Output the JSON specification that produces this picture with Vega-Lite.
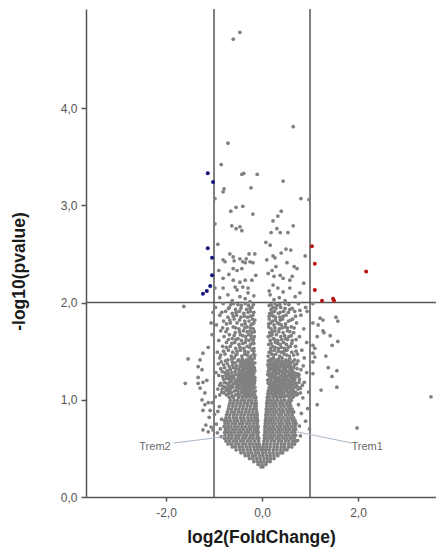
{
"$schema":"https://vega.github.io/schema/vega-lite/v6.json",
"width":350,"height":488,
"autosize":{"type":"none"},
"padding":{"left":86,"top":9,"right":0,"bottom":52},
"background":"white",
"config":{"view":{"stroke":null},
"axis":{"grid":false,"domainColor":"#555","domainWidth":1.5,"tickColor":"#555","tickWidth":1.5,"labelFont":"Liberation Sans","labelFontSize":12,"labelColor":"#555","titleFont":"Liberation Sans","titleFontSize":17.5,"titleFontWeight":"bold","titleColor":"#1a1a1a"}},
"datasets":{
"vref":[{"x":-1},{"x":1}],
"href":[{"y":2}],
"genes":[{"gene":"Trem2","x":-0.77,"y":0.62,"lx":-1.85,"ly":0.555,"tx":-2.23,"ty":0.51},{"gene":"Trem1","x":0.73,"y":0.67,"lx":1.875,"ly":0.555,"tx":2.19,"ty":0.51}],
"down":[{"x":-1.13,"y":3.33},{"x":-1.02,"y":3.24},{"x":-1.13,"y":2.56},{"x":-1.04,"y":2.46},{"x":-1.04,"y":2.28},{"x":-1.08,"y":2.17},{"x":-1.15,"y":2.12},{"x":-1.23,"y":2.09}],
"up":[{"x":1.04,"y":2.58},{"x":1.10,"y":2.40},{"x":1.10,"y":2.13},{"x":1.25,"y":2.02},{"x":1.48,"y":2.04},{"x":1.50,"y":2.02},{"x":2.17,"y":2.32}],
"ns":[
{"x":-0.02,"y":0.31},{"x":0.02,"y":0.31},
{"x":-0.08,"y":0.335},{"x":0.00,"y":0.335},{"x":0.08,"y":0.335},
{"x":-0.17,"y":0.365},{"x":-0.10,"y":0.365},{"x":-0.03,"y":0.365},{"x":0.04,"y":0.365},{"x":0.11,"y":0.365},{"x":0.17,"y":0.365},
{"x":-0.26,"y":0.395},{"x":-0.19,"y":0.395},{"x":-0.11,"y":0.395},{"x":-0.04,"y":0.395},{"x":0.04,"y":0.395},{"x":0.11,"y":0.395},{"x":0.18,"y":0.395},{"x":0.25,"y":0.395},
{"x":-0.35,"y":0.425},{"x":-0.28,"y":0.425},{"x":-0.20,"y":0.425},{"x":-0.13,"y":0.425},{"x":-0.05,"y":0.425},{"x":0.02,"y":0.425},{"x":0.10,"y":0.425},{"x":0.17,"y":0.425},{"x":0.25,"y":0.425},{"x":0.33,"y":0.425},
{"x":-0.44,"y":0.455},{"x":-0.37,"y":0.455},{"x":-0.29,"y":0.455},{"x":-0.22,"y":0.455},{"x":-0.14,"y":0.455},{"x":-0.07,"y":0.455},{"x":0.01,"y":0.455},{"x":0.08,"y":0.455},{"x":0.16,"y":0.455},{"x":0.23,"y":0.455},{"x":0.31,"y":0.455},{"x":0.38,"y":0.455},{"x":0.43,"y":0.455},
{"x":-0.54,"y":0.485},{"x":-0.46,"y":0.485},{"x":-0.39,"y":0.485},{"x":-0.31,"y":0.485},{"x":-0.24,"y":0.485},{"x":-0.16,"y":0.485},{"x":-0.09,"y":0.485},{"x":-0.02,"y":0.485},{"x":0.03,"y":0.485},{"x":0.09,"y":0.485},{"x":0.16,"y":0.485},{"x":0.24,"y":0.485},{"x":0.31,"y":0.485},{"x":0.39,"y":0.485},{"x":0.46,"y":0.485},{"x":0.52,"y":0.485},
{"x":-0.62,"y":0.515},{"x":-0.55,"y":0.515},{"x":-0.47,"y":0.515},{"x":-0.40,"y":0.515},{"x":-0.32,"y":0.515},{"x":-0.25,"y":0.515},{"x":-0.17,"y":0.515},{"x":-0.10,"y":0.515},{"x":-0.04,"y":0.515},{"x":0.03,"y":0.515},{"x":0.10,"y":0.515},{"x":0.17,"y":0.515},{"x":0.25,"y":0.515},{"x":0.32,"y":0.515},{"x":0.40,"y":0.515},{"x":0.47,"y":0.515},{"x":0.55,"y":0.515},{"x":0.62,"y":0.515},
{"x":-0.71,"y":0.545},{"x":-0.64,"y":0.545},{"x":-0.56,"y":0.545},{"x":-0.49,"y":0.545},{"x":-0.41,"y":0.545},{"x":-0.34,"y":0.545},{"x":-0.26,"y":0.545},{"x":-0.19,"y":0.545},{"x":-0.12,"y":0.545},{"x":-0.06,"y":0.545},{"x":0.03,"y":0.545},{"x":0.10,"y":0.545},{"x":0.17,"y":0.545},{"x":0.25,"y":0.545},{"x":0.32,"y":0.545},{"x":0.40,"y":0.545},{"x":0.47,"y":0.545},{"x":0.55,"y":0.545},{"x":0.62,"y":0.545},{"x":0.68,"y":0.545},
{"x":-0.75,"y":0.575},{"x":-0.68,"y":0.575},{"x":-0.60,"y":0.575},{"x":-0.53,"y":0.575},{"x":-0.45,"y":0.575},{"x":-0.38,"y":0.575},{"x":-0.30,"y":0.575},{"x":-0.23,"y":0.575},{"x":-0.15,"y":0.575},{"x":-0.07,"y":0.575},{"x":0.04,"y":0.575},{"x":0.11,"y":0.575},{"x":0.19,"y":0.575},{"x":0.26,"y":0.575},{"x":0.34,"y":0.575},{"x":0.41,"y":0.575},{"x":0.49,"y":0.575},{"x":0.56,"y":0.575},{"x":0.64,"y":0.575},{"x":0.70,"y":0.575},
{"x":-0.78,"y":0.605},{"x":-0.71,"y":0.605},{"x":-0.64,"y":0.605},{"x":-0.56,"y":0.605},{"x":-0.49,"y":0.605},{"x":-0.41,"y":0.605},{"x":-0.34,"y":0.605},{"x":-0.26,"y":0.605},{"x":-0.19,"y":0.605},{"x":-0.11,"y":0.605},{"x":-0.07,"y":0.605},{"x":0.05,"y":0.605},{"x":0.08,"y":0.605},{"x":0.15,"y":0.605},{"x":0.22,"y":0.605},{"x":0.30,"y":0.605},{"x":0.37,"y":0.605},{"x":0.45,"y":0.605},{"x":0.52,"y":0.605},{"x":0.60,"y":0.605},{"x":0.67,"y":0.605},
{"x":-0.77,"y":0.635},{"x":-0.69,"y":0.635},{"x":-0.62,"y":0.635},{"x":-0.54,"y":0.635},{"x":-0.47,"y":0.635},{"x":-0.39,"y":0.635},{"x":-0.32,"y":0.635},{"x":-0.24,"y":0.635},{"x":-0.17,"y":0.635},{"x":-0.09,"y":0.635},{"x":0.05,"y":0.635},{"x":0.12,"y":0.635},{"x":0.19,"y":0.635},{"x":0.26,"y":0.635},{"x":0.34,"y":0.635},{"x":0.41,"y":0.635},{"x":0.49,"y":0.635},{"x":0.56,"y":0.635},{"x":0.64,"y":0.635},{"x":0.70,"y":0.635},
{"x":-0.78,"y":0.665},{"x":-0.72,"y":0.665},{"x":-0.65,"y":0.665},{"x":-0.58,"y":0.665},{"x":-0.50,"y":0.665},{"x":-0.43,"y":0.665},{"x":-0.35,"y":0.665},{"x":-0.28,"y":0.665},{"x":-0.20,"y":0.665},{"x":-0.13,"y":0.665},{"x":-0.08,"y":0.665},{"x":0.06,"y":0.665},{"x":0.09,"y":0.665},{"x":0.16,"y":0.665},{"x":0.23,"y":0.665},{"x":0.31,"y":0.665},{"x":0.38,"y":0.665},{"x":0.46,"y":0.665},{"x":0.53,"y":0.665},{"x":0.61,"y":0.665},{"x":0.68,"y":0.665},
{"x":-0.76,"y":0.695},{"x":-0.69,"y":0.695},{"x":-0.61,"y":0.695},{"x":-0.54,"y":0.695},{"x":-0.46,"y":0.695},{"x":-0.39,"y":0.695},{"x":-0.31,"y":0.695},{"x":-0.24,"y":0.695},{"x":-0.16,"y":0.695},{"x":-0.09,"y":0.695},{"x":0.06,"y":0.695},{"x":0.13,"y":0.695},{"x":0.20,"y":0.695},{"x":0.27,"y":0.695},{"x":0.35,"y":0.695},{"x":0.42,"y":0.695},{"x":0.50,"y":0.695},{"x":0.57,"y":0.695},{"x":0.65,"y":0.695},{"x":0.70,"y":0.695},
{"x":-0.79,"y":0.725},{"x":-0.72,"y":0.725},{"x":-0.65,"y":0.725},{"x":-0.57,"y":0.725},{"x":-0.50,"y":0.725},{"x":-0.42,"y":0.725},{"x":-0.35,"y":0.725},{"x":-0.27,"y":0.725},{"x":-0.20,"y":0.725},{"x":-0.13,"y":0.725},{"x":-0.08,"y":0.725},{"x":0.06,"y":0.725},{"x":0.10,"y":0.725},{"x":0.17,"y":0.725},{"x":0.24,"y":0.725},{"x":0.32,"y":0.725},{"x":0.39,"y":0.725},{"x":0.47,"y":0.725},{"x":0.54,"y":0.725},{"x":0.62,"y":0.725},{"x":0.69,"y":0.725},
{"x":-0.77,"y":0.755},{"x":-0.70,"y":0.755},{"x":-0.62,"y":0.755},{"x":-0.55,"y":0.755},{"x":-0.47,"y":0.755},{"x":-0.40,"y":0.755},{"x":-0.32,"y":0.755},{"x":-0.25,"y":0.755},{"x":-0.17,"y":0.755},{"x":-0.10,"y":0.755},{"x":0.07,"y":0.755},{"x":0.14,"y":0.755},{"x":0.21,"y":0.755},{"x":0.28,"y":0.755},{"x":0.36,"y":0.755},{"x":0.43,"y":0.755},{"x":0.51,"y":0.755},{"x":0.58,"y":0.755},{"x":0.66,"y":0.755},{"x":0.71,"y":0.755},
{"x":-0.78,"y":0.785},{"x":-0.73,"y":0.785},{"x":-0.66,"y":0.785},{"x":-0.58,"y":0.785},{"x":-0.51,"y":0.785},{"x":-0.43,"y":0.785},{"x":-0.36,"y":0.785},{"x":-0.28,"y":0.785},{"x":-0.21,"y":0.785},{"x":-0.14,"y":0.785},{"x":-0.09,"y":0.785},{"x":0.07,"y":0.785},{"x":0.11,"y":0.785},{"x":0.18,"y":0.785},{"x":0.25,"y":0.785},{"x":0.33,"y":0.785},{"x":0.40,"y":0.785},{"x":0.48,"y":0.785},{"x":0.55,"y":0.785},{"x":0.63,"y":0.785},{"x":0.69,"y":0.785},
{"x":-0.75,"y":0.815},{"x":-0.68,"y":0.815},{"x":-0.60,"y":0.815},{"x":-0.53,"y":0.815},{"x":-0.45,"y":0.815},{"x":-0.38,"y":0.815},{"x":-0.30,"y":0.815},{"x":-0.23,"y":0.815},{"x":-0.16,"y":0.815},{"x":-0.10,"y":0.815},{"x":0.08,"y":0.815},{"x":0.15,"y":0.815},{"x":0.22,"y":0.815},{"x":0.29,"y":0.815},{"x":0.37,"y":0.815},{"x":0.44,"y":0.815},{"x":0.52,"y":0.815},{"x":0.59,"y":0.815},{"x":0.66,"y":0.815},
{"x":-0.74,"y":0.845},{"x":-0.67,"y":0.845},{"x":-0.59,"y":0.845},{"x":-0.52,"y":0.845},{"x":-0.44,"y":0.845},{"x":-0.37,"y":0.845},{"x":-0.29,"y":0.845},{"x":-0.22,"y":0.845},{"x":-0.15,"y":0.845},{"x":-0.10,"y":0.845},{"x":0.08,"y":0.845},{"x":0.12,"y":0.845},{"x":0.19,"y":0.845},{"x":0.26,"y":0.845},{"x":0.34,"y":0.845},{"x":0.41,"y":0.845},{"x":0.49,"y":0.845},{"x":0.56,"y":0.845},{"x":0.63,"y":0.845},
{"x":-0.72,"y":0.875},{"x":-0.64,"y":0.875},{"x":-0.57,"y":0.875},{"x":-0.49,"y":0.875},{"x":-0.42,"y":0.875},{"x":-0.34,"y":0.875},{"x":-0.27,"y":0.875},{"x":-0.19,"y":0.875},{"x":-0.11,"y":0.875},{"x":0.09,"y":0.875},{"x":0.16,"y":0.875},{"x":0.23,"y":0.875},{"x":0.30,"y":0.875},{"x":0.38,"y":0.875},{"x":0.45,"y":0.875},{"x":0.53,"y":0.875},{"x":0.60,"y":0.875},{"x":0.66,"y":0.875},
{"x":-0.70,"y":0.905},{"x":-0.63,"y":0.905},{"x":-0.55,"y":0.905},{"x":-0.48,"y":0.905},{"x":-0.40,"y":0.905},{"x":-0.33,"y":0.905},{"x":-0.25,"y":0.905},{"x":-0.18,"y":0.905},{"x":-0.12,"y":0.905},{"x":0.09,"y":0.905},{"x":0.13,"y":0.905},{"x":0.20,"y":0.905},{"x":0.27,"y":0.905},{"x":0.35,"y":0.905},{"x":0.42,"y":0.905},{"x":0.50,"y":0.905},{"x":0.57,"y":0.905},{"x":0.63,"y":0.905},
{"x":-0.69,"y":0.935},{"x":-0.61,"y":0.935},{"x":-0.54,"y":0.935},{"x":-0.46,"y":0.935},{"x":-0.39,"y":0.935},{"x":-0.31,"y":0.935},{"x":-0.24,"y":0.935},{"x":-0.16,"y":0.935},{"x":-0.12,"y":0.935},{"x":0.10,"y":0.935},{"x":0.17,"y":0.935},{"x":0.24,"y":0.935},{"x":0.31,"y":0.935},{"x":0.39,"y":0.935},{"x":0.46,"y":0.935},{"x":0.54,"y":0.935},{"x":0.60,"y":0.935},
{"x":-0.67,"y":0.965},{"x":-0.60,"y":0.965},{"x":-0.52,"y":0.965},{"x":-0.45,"y":0.965},{"x":-0.37,"y":0.965},{"x":-0.30,"y":0.965},{"x":-0.22,"y":0.965},{"x":-0.15,"y":0.965},{"x":-0.12,"y":0.965},{"x":0.10,"y":0.965},{"x":0.14,"y":0.965},{"x":0.21,"y":0.965},{"x":0.28,"y":0.965},{"x":0.36,"y":0.965},{"x":0.43,"y":0.965},{"x":0.51,"y":0.965},{"x":0.58,"y":0.965},
{"x":-0.66,"y":0.995},{"x":-0.58,"y":0.995},{"x":-0.51,"y":0.995},{"x":-0.43,"y":0.995},{"x":-0.36,"y":0.995},{"x":-0.28,"y":0.995},{"x":-0.21,"y":0.995},{"x":-0.13,"y":0.995},{"x":0.11,"y":0.995},{"x":0.18,"y":0.995},{"x":0.25,"y":0.995},{"x":0.32,"y":0.995},{"x":0.40,"y":0.995},{"x":0.47,"y":0.995},{"x":0.55,"y":0.995},{"x":0.61,"y":0.995},
{"x":-0.68,"y":1.025},{"x":-0.60,"y":1.025},{"x":-0.49,"y":1.025},{"x":-0.41,"y":1.025},{"x":-0.33,"y":1.025},{"x":-0.25,"y":1.025},{"x":-0.17,"y":1.025},{"x":-0.13,"y":1.025},{"x":0.11,"y":1.025},{"x":0.15,"y":1.025},{"x":0.23,"y":1.025},{"x":0.31,"y":1.025},{"x":0.38,"y":1.025},{"x":0.46,"y":1.025},{"x":0.57,"y":1.025},{"x":0.64,"y":1.025},
{"x":-0.88,"y":1.05},{"x":-0.74,"y":1.05},{"x":-0.55,"y":1.05},{"x":-0.46,"y":1.05},{"x":-0.31,"y":1.05},{"x":-0.22,"y":1.05},{"x":-0.15,"y":1.05},
{"x":-0.79,"y":1.07},{"x":-0.64,"y":1.07},{"x":-0.39,"y":1.07},{"x":-0.27,"y":1.07},{"x":-0.18,"y":1.07},
{"x":-0.71,"y":1.09},{"x":-0.58,"y":1.09},{"x":-0.50,"y":1.09},{"x":-0.35,"y":1.09},{"x":-0.24,"y":1.09},{"x":-0.14,"y":1.09},
{"x":-0.92,"y":1.11},{"x":-0.83,"y":1.11},{"x":-0.66,"y":1.11},{"x":-0.43,"y":1.11},{"x":-0.30,"y":1.11},{"x":-0.19,"y":1.11},
{"x":-0.76,"y":1.13},{"x":-0.61,"y":1.13},{"x":-0.53,"y":1.13},{"x":-0.37,"y":1.13},{"x":-0.26,"y":1.13},{"x":-0.15,"y":1.13},
{"x":-0.69,"y":1.15},{"x":-0.47,"y":1.15},{"x":-0.33,"y":1.15},{"x":-0.21,"y":1.15},
{"x":-0.86,"y":1.17},{"x":-0.73,"y":1.17},{"x":-0.57,"y":1.17},{"x":-0.40,"y":1.17},{"x":-0.28,"y":1.17},{"x":-0.16,"y":1.17},
{"x":-0.64,"y":1.19},{"x":-0.51,"y":1.19},{"x":-0.36,"y":1.19},{"x":-0.23,"y":1.19},
{"x":-0.80,"y":1.21},{"x":-0.68,"y":1.21},{"x":-0.45,"y":1.21},{"x":-0.31,"y":1.21},{"x":-0.18,"y":1.21},
{"x":-0.59,"y":1.23},{"x":-0.38,"y":1.23},{"x":-0.26,"y":1.23},{"x":-0.15,"y":1.23},
{"x":-0.90,"y":1.25},{"x":-0.75,"y":1.25},{"x":-0.62,"y":1.25},{"x":-0.49,"y":1.25},{"x":-0.33,"y":1.25},{"x":-0.21,"y":1.25},
{"x":-0.70,"y":1.27},{"x":-0.43,"y":1.27},{"x":-0.29,"y":1.27},{"x":-0.17,"y":1.27},
{"x":-0.83,"y":1.29},{"x":-0.56,"y":1.29},{"x":-0.37,"y":1.29},{"x":-0.24,"y":1.29},
{"x":-0.66,"y":1.31},{"x":-0.48,"y":1.31},{"x":-0.31,"y":1.31},{"x":-0.19,"y":1.31},
{"x":-0.78,"y":1.33},{"x":-0.60,"y":1.33},{"x":-0.40,"y":1.33},{"x":-0.27,"y":1.33},{"x":-0.16,"y":1.33},
{"x":-0.53,"y":1.35},{"x":-0.35,"y":1.35},{"x":-0.22,"y":1.35},
{"x":-0.72,"y":1.37},{"x":-0.45,"y":1.37},{"x":-0.30,"y":1.37},{"x":-0.18,"y":1.37},
{"x":-0.85,"y":1.39},{"x":-0.62,"y":1.39},{"x":-0.38,"y":1.39},{"x":-0.25,"y":1.39},
{"x":-0.62,"y":1.04},{"x":-0.38,"y":1.04},{"x":-0.27,"y":1.04},
{"x":-0.70,"y":1.06},{"x":-0.50,"y":1.06},{"x":-0.34,"y":1.06},{"x":-0.20,"y":1.06},
{"x":-0.84,"y":1.08},{"x":-0.66,"y":1.08},{"x":-0.43,"y":1.08},{"x":-0.30,"y":1.08},{"x":-0.17,"y":1.08},
{"x":-0.75,"y":1.10},{"x":-0.54,"y":1.10},{"x":-0.38,"y":1.10},{"x":-0.25,"y":1.10},
{"x":-0.70,"y":1.12},{"x":-0.48,"y":1.12},{"x":-0.33,"y":1.12},{"x":-0.22,"y":1.12},
{"x":-0.81,"y":1.14},{"x":-0.64,"y":1.14},{"x":-0.42,"y":1.14},{"x":-0.29,"y":1.14},{"x":-0.18,"y":1.14},
{"x":-0.60,"y":1.16},{"x":-0.52,"y":1.16},{"x":-0.37,"y":1.16},{"x":-0.25,"y":1.16},
{"x":-0.78,"y":1.18},{"x":-0.67,"y":1.18},{"x":-0.46,"y":1.18},{"x":-0.32,"y":1.18},{"x":-0.20,"y":1.18},
{"x":-0.56,"y":1.20},{"x":-0.41,"y":1.20},{"x":-0.27,"y":1.20},{"x":-0.15,"y":1.20},
{"x":-0.74,"y":1.22},{"x":-0.63,"y":1.22},{"x":-0.50,"y":1.22},{"x":-0.35,"y":1.22},{"x":-0.22,"y":1.22},
{"x":-0.82,"y":1.24},{"x":-0.68,"y":1.24},{"x":-0.44,"y":1.24},{"x":-0.31,"y":1.24},{"x":-0.19,"y":1.24},
{"x":-0.55,"y":1.26},{"x":-0.39,"y":1.26},{"x":-0.25,"y":1.26},
{"x":-0.77,"y":1.28},{"x":-0.63,"y":1.28},{"x":-0.48,"y":1.28},{"x":-0.33,"y":1.28},{"x":-0.20,"y":1.28},
{"x":-0.72,"y":1.30},{"x":-0.42,"y":1.30},{"x":-0.28,"y":1.30},{"x":-0.15,"y":1.30},
{"x":-0.86,"y":1.32},{"x":-0.54,"y":1.32},{"x":-0.36,"y":1.32},{"x":-0.23,"y":1.32},
{"x":-0.68,"y":1.34},{"x":-0.46,"y":1.34},{"x":-0.31,"y":1.34},{"x":-0.19,"y":1.34},
{"x":-0.80,"y":1.36},{"x":-0.61,"y":1.36},{"x":-0.40,"y":1.36},{"x":-0.26,"y":1.36},
{"x":-0.56,"y":1.38},{"x":-0.34,"y":1.38},{"x":-0.21,"y":1.38},{"x":-0.15,"y":1.38},
{"x":-0.76,"y":1.40},{"x":-0.50,"y":1.40},{"x":-0.43,"y":1.40},{"x":-0.29,"y":1.40},
{"x":0.14,"y":1.05},{"x":0.22,"y":1.05},{"x":0.35,"y":1.05},{"x":0.48,"y":1.05},{"x":0.60,"y":1.05},{"x":0.72,"y":1.05},
{"x":0.18,"y":1.07},{"x":0.29,"y":1.07},{"x":0.41,"y":1.07},{"x":0.55,"y":1.07},{"x":0.67,"y":1.07},{"x":0.80,"y":1.07},
{"x":0.13,"y":1.09},{"x":0.25,"y":1.09},{"x":0.37,"y":1.09},{"x":0.51,"y":1.09},{"x":0.63,"y":1.09},
{"x":0.20,"y":1.11},{"x":0.32,"y":1.11},{"x":0.44,"y":1.11},{"x":0.58,"y":1.11},{"x":0.75,"y":1.11},
{"x":0.15,"y":1.13},{"x":0.27,"y":1.13},{"x":0.40,"y":1.13},{"x":0.53,"y":1.13},{"x":0.68,"y":1.13},
{"x":0.22,"y":1.15},{"x":0.35,"y":1.15},{"x":0.47,"y":1.15},{"x":0.61,"y":1.15},{"x":0.84,"y":1.15},
{"x":0.13,"y":1.17},{"x":0.29,"y":1.17},{"x":0.42,"y":1.17},{"x":0.56,"y":1.17},{"x":0.71,"y":1.17},
{"x":0.19,"y":1.19},{"x":0.33,"y":1.19},{"x":0.49,"y":1.19},{"x":0.64,"y":1.19},
{"x":0.14,"y":1.21},{"x":0.26,"y":1.21},{"x":0.38,"y":1.21},{"x":0.52,"y":1.21},{"x":0.78,"y":1.21},
{"x":0.21,"y":1.23},{"x":0.31,"y":1.23},{"x":0.45,"y":1.23},{"x":0.59,"y":1.23},{"x":0.69,"y":1.23},
{"x":0.15,"y":1.25},{"x":0.28,"y":1.25},{"x":0.41,"y":1.25},{"x":0.55,"y":1.25},
{"x":0.19,"y":1.27},{"x":0.34,"y":1.27},{"x":0.48,"y":1.27},{"x":0.63,"y":1.27},{"x":0.74,"y":1.27},
{"x":0.13,"y":1.29},{"x":0.24,"y":1.29},{"x":0.39,"y":1.29},{"x":0.52,"y":1.29},
{"x":0.18,"y":1.31},{"x":0.30,"y":1.31},{"x":0.44,"y":1.31},{"x":0.58,"y":1.31},{"x":0.81,"y":1.31},
{"x":0.14,"y":1.33},{"x":0.26,"y":1.33},{"x":0.37,"y":1.33},{"x":0.50,"y":1.33},{"x":0.66,"y":1.33},
{"x":0.20,"y":1.35},{"x":0.33,"y":1.35},{"x":0.46,"y":1.35},{"x":0.60,"y":1.35},
{"x":0.15,"y":1.37},{"x":0.28,"y":1.37},{"x":0.41,"y":1.37},{"x":0.55,"y":1.37},{"x":0.72,"y":1.37},
{"x":0.19,"y":1.39},{"x":0.36,"y":1.39},{"x":0.49,"y":1.39},{"x":0.64,"y":1.39},
{"x":0.28,"y":1.04},{"x":0.42,"y":1.04},{"x":0.53,"y":1.04},{"x":0.66,"y":1.04},
{"x":0.12,"y":1.06},{"x":0.26,"y":1.06},{"x":0.39,"y":1.06},{"x":0.62,"y":1.06},{"x":0.74,"y":1.06},
{"x":0.19,"y":1.08},{"x":0.32,"y":1.08},{"x":0.45,"y":1.08},{"x":0.58,"y":1.08},{"x":0.70,"y":1.08},
{"x":0.14,"y":1.10},{"x":0.27,"y":1.10},{"x":0.39,"y":1.10},{"x":0.51,"y":1.10},{"x":0.65,"y":1.10},
{"x":0.24,"y":1.12},{"x":0.36,"y":1.12},{"x":0.49,"y":1.12},{"x":0.62,"y":1.12},{"x":0.80,"y":1.12},
{"x":0.19,"y":1.14},{"x":0.31,"y":1.14},{"x":0.44,"y":1.14},{"x":0.57,"y":1.14},{"x":0.73,"y":1.14},
{"x":0.17,"y":1.16},{"x":0.26,"y":1.16},{"x":0.39,"y":1.16},{"x":0.52,"y":1.16},{"x":0.66,"y":1.16},
{"x":0.23,"y":1.18},{"x":0.37,"y":1.18},{"x":0.46,"y":1.18},{"x":0.60,"y":1.18},{"x":0.77,"y":1.18},
{"x":0.12,"y":1.20},{"x":0.29,"y":1.20},{"x":0.43,"y":1.20},{"x":0.56,"y":1.20},{"x":0.68,"y":1.20},
{"x":0.18,"y":1.22},{"x":0.35,"y":1.22},{"x":0.48,"y":1.22},{"x":0.63,"y":1.22},
{"x":0.24,"y":1.24},{"x":0.38,"y":1.24},{"x":0.51,"y":1.24},{"x":0.65,"y":1.24},{"x":0.76,"y":1.24},
{"x":0.12,"y":1.26},{"x":0.22,"y":1.26},{"x":0.45,"y":1.26},{"x":0.59,"y":1.26},{"x":0.70,"y":1.26},
{"x":0.29,"y":1.28},{"x":0.43,"y":1.28},{"x":0.57,"y":1.28},{"x":0.67,"y":1.28},
{"x":0.14,"y":1.30},{"x":0.25,"y":1.30},{"x":0.36,"y":1.30},{"x":0.50,"y":1.30},{"x":0.63,"y":1.30},
{"x":0.21,"y":1.32},{"x":0.33,"y":1.32},{"x":0.47,"y":1.32},{"x":0.61,"y":1.32},{"x":0.73,"y":1.32},
{"x":0.17,"y":1.34},{"x":0.30,"y":1.34},{"x":0.43,"y":1.34},{"x":0.56,"y":1.34},
{"x":0.12,"y":1.36},{"x":0.24,"y":1.36},{"x":0.39,"y":1.36},{"x":0.52,"y":1.36},{"x":0.68,"y":1.36},
{"x":0.21,"y":1.38},{"x":0.32,"y":1.38},{"x":0.46,"y":1.38},{"x":0.59,"y":1.38},
{"x":0.13,"y":1.40},{"x":0.26,"y":1.40},{"x":0.42,"y":1.40},{"x":0.56,"y":1.40},{"x":0.75,"y":1.40},
{"x":-0.71,"y":1.41},{"x":-0.49,"y":1.41},{"x":-0.33,"y":1.41},{"x":-0.20,"y":1.41},
{"x":-0.88,"y":1.43},{"x":-0.58,"y":1.43},{"x":-0.27,"y":1.43},{"x":-0.16,"y":1.43},
{"x":-0.64,"y":1.45},{"x":-0.42,"y":1.45},{"x":-0.23,"y":1.45},
{"x":-0.77,"y":1.47},{"x":-0.52,"y":1.47},{"x":-0.36,"y":1.47},{"x":-0.18,"y":1.47},
{"x":-0.93,"y":1.49},{"x":-0.61,"y":1.49},{"x":-0.29,"y":1.49},
{"x":-0.70,"y":1.51},{"x":-0.45,"y":1.51},{"x":-0.21,"y":1.51},
{"x":-0.55,"y":1.53},{"x":-0.38,"y":1.53},{"x":-0.17,"y":1.53},
{"x":-0.82,"y":1.55},{"x":-0.66,"y":1.55},{"x":-0.31,"y":1.55},
{"x":-0.48,"y":1.57},{"x":-0.24,"y":1.57},
{"x":-0.74,"y":1.59},{"x":-0.57,"y":1.59},{"x":-0.35,"y":1.59},{"x":-0.19,"y":1.59},
{"x":-0.90,"y":1.61},{"x":-0.43,"y":1.61},{"x":-0.27,"y":1.61},
{"x":-0.62,"y":1.63},{"x":-0.50,"y":1.63},{"x":-0.22,"y":1.63},
{"x":-0.79,"y":1.65},{"x":-0.34,"y":1.65},{"x":-0.16,"y":1.65},
{"x":-0.68,"y":1.67},{"x":-0.45,"y":1.67},{"x":-0.28,"y":1.67},
{"x":-0.56,"y":1.69},{"x":-0.21,"y":1.69},
{"x":-0.86,"y":1.71},{"x":-0.39,"y":1.71},{"x":-0.25,"y":1.71},
{"x":-0.72,"y":1.73},{"x":-0.48,"y":1.73},{"x":-0.18,"y":1.73},
{"x":-0.60,"y":1.75},{"x":-0.31,"y":1.75},
{"x":-0.95,"y":1.77},{"x":-0.42,"y":1.77},{"x":-0.23,"y":1.77},
{"x":-0.66,"y":1.79},{"x":-0.52,"y":1.79},{"x":-0.17,"y":1.79},
{"x":-0.80,"y":1.81},{"x":-0.36,"y":1.81},{"x":-0.27,"y":1.81},
{"x":-0.58,"y":1.83},{"x":-0.20,"y":1.83},
{"x":-0.71,"y":1.85},{"x":-0.44,"y":1.85},{"x":-0.30,"y":1.85},
{"x":-0.88,"y":1.87},{"x":-0.53,"y":1.87},{"x":-0.19,"y":1.87},
{"x":-0.62,"y":1.89},{"x":-0.38,"y":1.89},
{"x":-0.76,"y":1.91},{"x":-0.47,"y":1.91},{"x":-0.24,"y":1.91},
{"x":-0.55,"y":1.93},{"x":-0.32,"y":1.93},
{"x":-0.97,"y":1.95},{"x":-0.68,"y":1.95},{"x":-0.21,"y":1.95},
{"x":-0.43,"y":1.97},{"x":-0.28,"y":1.97},
{"x":-0.81,"y":1.99},{"x":-0.59,"y":1.99},{"x":-0.35,"y":1.99},
{"x":-0.63,"y":1.42},{"x":-0.41,"y":1.42},{"x":-0.24,"y":1.42},
{"x":-0.86,"y":1.46},{"x":-0.55,"y":1.46},{"x":-0.31,"y":1.46},{"x":-0.15,"y":1.46},
{"x":-0.80,"y":1.50},{"x":-0.52,"y":1.50},{"x":-0.36,"y":1.50},{"x":-0.17,"y":1.50},
{"x":-0.74,"y":1.54},{"x":-0.46,"y":1.54},{"x":-0.26,"y":1.54},
{"x":-0.63,"y":1.58},{"x":-0.40,"y":1.58},{"x":-0.17,"y":1.58},
{"x":-0.70,"y":1.62},{"x":-0.54,"y":1.62},{"x":-0.33,"y":1.62},{"x":-0.18,"y":1.62},
{"x":-0.58,"y":1.66},{"x":-0.40,"y":1.66},{"x":-0.23,"y":1.66},
{"x":-0.75,"y":1.70},{"x":-0.47,"y":1.70},{"x":-0.31,"y":1.70},{"x":-0.16,"y":1.70},
{"x":-0.82,"y":1.74},{"x":-0.55,"y":1.74},{"x":-0.36,"y":1.74},{"x":-0.24,"y":1.74},
{"x":-0.74,"y":1.78},{"x":-0.35,"y":1.78},{"x":-0.20,"y":1.78},
{"x":-0.67,"y":1.82},{"x":-0.47,"y":1.82},{"x":-0.15,"y":1.82},
{"x":-0.60,"y":1.86},{"x":-0.37,"y":1.86},{"x":-0.24,"y":1.86},
{"x":-0.84,"y":1.90},{"x":-0.54,"y":1.90},{"x":-0.29,"y":1.90},{"x":-0.17,"y":1.90},
{"x":-0.70,"y":1.94},{"x":-0.44,"y":1.94},{"x":-0.25,"y":1.94},
{"x":-0.65,"y":1.98},{"x":-0.50,"y":1.98},{"x":-0.18,"y":1.98},
{"x":0.16,"y":1.41},{"x":0.31,"y":1.41},{"x":0.50,"y":1.41},{"x":0.68,"y":1.41},
{"x":0.24,"y":1.43},{"x":0.42,"y":1.43},{"x":0.88,"y":1.43},
{"x":0.13,"y":1.45},{"x":0.37,"y":1.45},{"x":0.57,"y":1.45},
{"x":0.20,"y":1.47},{"x":0.29,"y":1.47},{"x":0.46,"y":1.47},{"x":0.74,"y":1.47},
{"x":0.15,"y":1.49},{"x":0.40,"y":1.49},{"x":0.62,"y":1.49},
{"x":0.26,"y":1.51},{"x":0.52,"y":1.51},{"x":0.83,"y":1.51},
{"x":0.18,"y":1.53},{"x":0.34,"y":1.53},{"x":0.47,"y":1.53},
{"x":0.22,"y":1.55},{"x":0.59,"y":1.55},{"x":0.70,"y":1.55},
{"x":0.14,"y":1.57},{"x":0.38,"y":1.57},{"x":0.51,"y":1.57},
{"x":0.28,"y":1.59},{"x":0.45,"y":1.59},{"x":0.93,"y":1.59},
{"x":0.17,"y":1.61},{"x":0.33,"y":1.61},{"x":0.63,"y":1.61},
{"x":0.24,"y":1.63},{"x":0.49,"y":1.63},
{"x":0.13,"y":1.65},{"x":0.39,"y":1.65},{"x":0.56,"y":1.65},{"x":0.78,"y":1.65},
{"x":0.21,"y":1.67},{"x":0.30,"y":1.67},
{"x":0.16,"y":1.69},{"x":0.44,"y":1.69},{"x":0.66,"y":1.69},
{"x":0.27,"y":1.71},{"x":0.53,"y":1.71},
{"x":0.19,"y":1.73},{"x":0.36,"y":1.73},{"x":0.87,"y":1.73},
{"x":0.14,"y":1.75},{"x":0.48,"y":1.75},{"x":0.61,"y":1.75},
{"x":0.25,"y":1.77},{"x":0.40,"y":1.77},
{"x":0.18,"y":1.79},{"x":0.32,"y":1.79},{"x":0.72,"y":1.79},
{"x":0.22,"y":1.81},{"x":0.55,"y":1.81},
{"x":0.15,"y":1.83},{"x":0.43,"y":1.83},{"x":0.64,"y":1.83},
{"x":0.28,"y":1.85},{"x":0.37,"y":1.85},
{"x":0.20,"y":1.87},{"x":0.50,"y":1.87},{"x":0.81,"y":1.87},
{"x":0.16,"y":1.89},{"x":0.34,"y":1.89},
{"x":0.26,"y":1.91},{"x":0.45,"y":1.91},{"x":0.68,"y":1.91},
{"x":0.19,"y":1.93},{"x":0.58,"y":1.93},
{"x":0.23,"y":1.95},{"x":0.39,"y":1.95},{"x":0.91,"y":1.95},
{"x":0.15,"y":1.97},{"x":0.31,"y":1.97},
{"x":0.27,"y":1.99},{"x":0.48,"y":1.99},{"x":0.76,"y":1.99},
{"x":0.20,"y":1.42},{"x":0.35,"y":1.42},{"x":0.58,"y":1.42},
{"x":0.24,"y":1.46},{"x":0.51,"y":1.46},{"x":0.66,"y":1.46},
{"x":0.19,"y":1.50},{"x":0.34,"y":1.50},{"x":0.46,"y":1.50},{"x":0.71,"y":1.50},
{"x":0.27,"y":1.54},{"x":0.40,"y":1.54},{"x":0.55,"y":1.54},
{"x":0.19,"y":1.58},{"x":0.33,"y":1.58},{"x":0.62,"y":1.58},
{"x":0.26,"y":1.62},{"x":0.41,"y":1.62},{"x":0.53,"y":1.62},{"x":0.71,"y":1.62},
{"x":0.18,"y":1.66},{"x":0.47,"y":1.66},{"x":0.61,"y":1.66},
{"x":0.22,"y":1.70},{"x":0.35,"y":1.70},{"x":0.58,"y":1.70},
{"x":0.27,"y":1.74},{"x":0.42,"y":1.74},{"x":0.53,"y":1.74},{"x":0.67,"y":1.74},
{"x":0.14,"y":1.78},{"x":0.36,"y":1.78},{"x":0.49,"y":1.78},
{"x":0.28,"y":1.82},{"x":0.38,"y":1.82},{"x":0.60,"y":1.82},
{"x":0.15,"y":1.86},{"x":0.24,"y":1.86},{"x":0.44,"y":1.86},{"x":0.70,"y":1.86},
{"x":0.21,"y":1.90},{"x":0.38,"y":1.90},{"x":0.55,"y":1.90},
{"x":0.29,"y":1.94},{"x":0.48,"y":1.94},{"x":0.63,"y":1.94},
{"x":0.19,"y":1.98},{"x":0.37,"y":1.98},{"x":0.56,"y":1.98},
{"x":-1.60,"y":1.17},{"x":-1.54,"y":1.42},{"x":-1.63,"y":1.96},{"x":-1.33,"y":1.17},{"x":-1.23,"y":1.18},
{"x":-1.25,"y":1.00},{"x":-1.19,"y":0.95},{"x":-1.08,"y":0.89},{"x":-1.04,"y":0.97},{"x":-1.23,"y":0.69},{"x":-1.12,"y":0.67},
{"x":-1.33,"y":1.34},{"x":-1.29,"y":1.41},{"x":-1.23,"y":1.48},{"x":-1.25,"y":1.31},{"x":-1.33,"y":1.23},{"x":-1.15,"y":1.20},
{"x":-1.29,"y":1.12},{"x":-1.19,"y":1.07},{"x":-1.12,"y":0.97},{"x":-1.23,"y":0.89},{"x":-1.10,"y":0.82},{"x":-1.17,"y":0.74},
{"x":-1.06,"y":0.72},{"x":-1.02,"y":0.69},{"x":-1.12,"y":1.54},{"x":-1.04,"y":1.67},{"x":-1.06,"y":1.79},{"x":-1.02,"y":1.90},
{"x":-0.95,"y":0.75},{"x":-0.92,"y":0.88},{"x":-0.97,"y":1.03},{"x":-0.89,"y":0.93},{"x":-0.85,"y":0.62},{"x":-0.93,"y":0.66},
{"x":-0.88,"y":1.15},{"x":-0.96,"y":1.28},{"x":-0.91,"y":1.37},{"x":-0.84,"y":0.80},{"x":-0.99,"y":0.85},{"x":-0.87,"y":0.70},
{"x":0.74,"y":0.58},{"x":0.78,"y":0.73},{"x":0.82,"y":0.86},{"x":0.76,"y":0.95},{"x":0.85,"y":1.02},{"x":0.79,"y":1.12},
{"x":0.91,"y":0.78},{"x":0.88,"y":1.18},{"x":0.95,"y":0.91},{"x":0.80,"y":0.63},{"x":0.93,"y":1.28},{"x":0.86,"y":1.35},
{"x":0.97,"y":1.08},{"x":0.77,"y":1.26},{"x":0.99,"y":0.70},
{"x":1.06,"y":1.99},{"x":0.79,"y":1.92},{"x":0.94,"y":1.91},{"x":1.06,"y":1.79},{"x":1.17,"y":1.77},{"x":1.21,"y":1.84},
{"x":1.27,"y":1.82},{"x":1.54,"y":1.85},{"x":1.58,"y":1.81},{"x":1.27,"y":1.71},{"x":1.29,"y":1.69},{"x":1.42,"y":1.66},
{"x":1.15,"y":1.65},{"x":1.58,"y":1.60},{"x":1.46,"y":1.56},{"x":1.06,"y":1.56},{"x":1.10,"y":1.53},{"x":1.06,"y":1.48},
{"x":1.10,"y":1.44},{"x":1.33,"y":1.45},{"x":1.38,"y":1.33},{"x":1.56,"y":1.30},{"x":1.46,"y":1.24},{"x":1.56,"y":1.13},
{"x":1.23,"y":1.10},{"x":1.15,"y":0.95},{"x":1.06,"y":1.39},{"x":1.06,"y":1.27},{"x":1.98,"y":0.71},{"x":3.52,"y":1.03},
{"x":-0.46,"y":4.78},{"x":-0.60,"y":4.71},{"x":0.65,"y":3.81},{"x":-0.71,"y":3.64},{"x":-0.85,"y":3.42},{"x":-0.38,"y":3.33},
{"x":-0.42,"y":3.32},{"x":-0.10,"y":3.32},{"x":0.44,"y":3.25},{"x":-0.79,"y":3.17},{"x":-0.81,"y":3.14},{"x":-0.23,"y":3.18},
{"x":-0.98,"y":3.07},{"x":0.81,"y":3.07},{"x":0.98,"y":3.06},{"x":-0.65,"y":2.94},{"x":-0.54,"y":2.98},{"x":-0.40,"y":2.99},
{"x":-0.19,"y":2.91},{"x":0.40,"y":2.94},{"x":0.33,"y":2.89},{"x":0.23,"y":2.84},{"x":-0.98,"y":2.81},{"x":-0.63,"y":2.79},
{"x":-0.54,"y":2.76},{"x":-0.46,"y":2.78},{"x":-0.42,"y":2.74},{"x":0.19,"y":2.72},{"x":0.31,"y":2.76},{"x":0.38,"y":2.72},
{"x":0.54,"y":2.72},{"x":0.65,"y":2.79},{"x":0.08,"y":2.62},{"x":0.17,"y":2.59},{"x":-0.92,"y":2.60},{"x":0.50,"y":2.55},
{"x":0.60,"y":2.54},{"x":-0.67,"y":2.50},{"x":-0.27,"y":2.50},{"x":-0.15,"y":2.50},{"x":-0.81,"y":2.44},{"x":-0.77,"y":2.42},
{"x":-0.58,"y":2.43},{"x":-0.46,"y":2.45},{"x":-0.40,"y":2.42},{"x":0.23,"y":2.48},{"x":0.27,"y":2.46},{"x":0.40,"y":2.51},
{"x":0.90,"y":2.48},{"x":-0.19,"y":2.41},{"x":-0.35,"y":2.41},{"x":0.52,"y":2.41},{"x":0.67,"y":2.37},{"x":-0.60,"y":2.47},
{"x":-0.33,"y":2.45},{"x":-0.25,"y":2.42},{"x":-0.60,"y":2.35},{"x":-0.52,"y":2.33},{"x":-0.42,"y":2.35},{"x":-0.81,"y":2.25},
{"x":-0.60,"y":2.23},{"x":-0.46,"y":2.21},{"x":-0.35,"y":2.23},{"x":-0.21,"y":2.23},{"x":-0.56,"y":2.16},{"x":-0.52,"y":2.13},
{"x":-0.40,"y":2.16},{"x":-0.29,"y":2.15},{"x":-0.98,"y":2.15},{"x":-0.81,"y":2.15},{"x":-0.71,"y":2.08},{"x":-0.46,"y":2.06},
{"x":-0.29,"y":2.10},{"x":0.21,"y":2.33},{"x":0.44,"y":2.25},{"x":0.58,"y":2.23},{"x":0.25,"y":2.27},{"x":0.23,"y":2.18},
{"x":0.33,"y":2.15},{"x":0.44,"y":2.11},{"x":0.58,"y":2.15},{"x":0.73,"y":2.35},{"x":0.79,"y":2.10},{"x":0.17,"y":2.08},
{"x":0.13,"y":2.30},{"x":0.38,"y":2.28},{"x":0.63,"y":2.27},{"x":-0.62,"y":2.02},{"x":-0.35,"y":2.04},{"x":-0.25,"y":2.01},
{"x":-0.17,"y":2.07},{"x":0.25,"y":2.03},{"x":0.36,"y":2.05},{"x":0.48,"y":2.02},{"x":0.15,"y":2.12},{"x":-0.88,"y":2.05},
{"x":0.69,"y":2.06},{"x":0.87,"y":2.20},{"x":0.29,"y":2.37},{"x":-0.13,"y":2.28},{"x":0.10,"y":2.44},{"x":-0.69,"y":2.29},{"x":-0.90,"y":2.33}
]},
"layer":[
{"data":{"name":"vref"},"mark":{"type":"rule","color":"#555","strokeWidth":1.5},
 "encoding":{"x":{"field":"x","type":"quantitative","scale":{"domain":[-3.667,3.625],"nice":false,"zero":false},
   "axis":{"title":"log2(FoldChange)","values":[-2,0,2],"labelExpr":"(datum.value<0?'-':'')+replace(format(abs(datum.value),'.1f'),'.',',')","tickSize":4,"labelPadding":6,"titleY":45,"titleBaseline":"alphabetic"}}}},
{"data":{"name":"href"},"mark":{"type":"rule","color":"#555","strokeWidth":1.5},
 "encoding":{"y":{"field":"y","type":"quantitative","scale":{"domain":[0,5.02],"nice":false,"zero":false},
   "axis":{"title":"-log10(pvalue)","values":[0,1,2,3,4],"labelExpr":"replace(format(datum.value,'.1f'),'.',',')","tickSize":5,"labelPadding":4,"titleX":-58,"titleY":262,"titleAngle":270,"titleBaseline":"bottom","titleAlign":"center"}}}},
{"data":{"name":"ns"},"mark":{"type":"circle","color":"#808080","opacity":1,"size":14},
 "encoding":{
  "x":{"field":"x","type":"quantitative","scale":{"domain":[-3.667,3.625],"nice":false,"zero":false},
   "axis":{"title":"log2(FoldChange)","values":[-2,0,2],"labelExpr":"(datum.value<0?'-':'')+replace(format(abs(datum.value),'.1f'),'.',',')","tickSize":4,"labelPadding":6,"titleY":45,"titleBaseline":"alphabetic"}},
  "y":{"field":"y","type":"quantitative","scale":{"domain":[0,5.02],"nice":false,"zero":false},
   "axis":{"title":"-log10(pvalue)","values":[0,1,2,3,4],"labelExpr":"replace(format(datum.value,'.1f'),'.',',')","tickSize":5,"labelPadding":4,"titleX":-58,"titleY":262,"titleAngle":270,"titleBaseline":"bottom","titleAlign":"center"}}}},
{"data":{"name":"genes"},"mark":{"type":"rule","color":"#a9b8c6","strokeWidth":1},
 "encoding":{"x":{"field":"x","type":"quantitative","title":"log2(FoldChange)"},"y":{"field":"y","type":"quantitative","title":"-log10(pvalue)"},"x2":{"field":"lx"},"y2":{"field":"ly"}}},
{"data":{"name":"genes"},"mark":{"type":"text","font":"Liberation Sans","fontSize":11,"color":"#6b6b6b","baseline":"middle","align":"center"},
 "encoding":{"x":{"field":"tx","type":"quantitative","title":"log2(FoldChange)"},"y":{"field":"ty","type":"quantitative","title":"-log10(pvalue)"},"text":{"field":"gene"}}},
{"data":{"name":"down"},"mark":{"type":"circle","color":"#14147a","opacity":1,"size":16},
 "encoding":{"x":{"field":"x","type":"quantitative","title":"log2(FoldChange)"},"y":{"field":"y","type":"quantitative","title":"-log10(pvalue)"}}},
{"data":{"name":"up"},"mark":{"type":"circle","color":"#b81414","opacity":1,"size":16},
 "encoding":{"x":{"field":"x","type":"quantitative","title":"log2(FoldChange)"},"y":{"field":"y","type":"quantitative","title":"-log10(pvalue)"}}}
]
}
